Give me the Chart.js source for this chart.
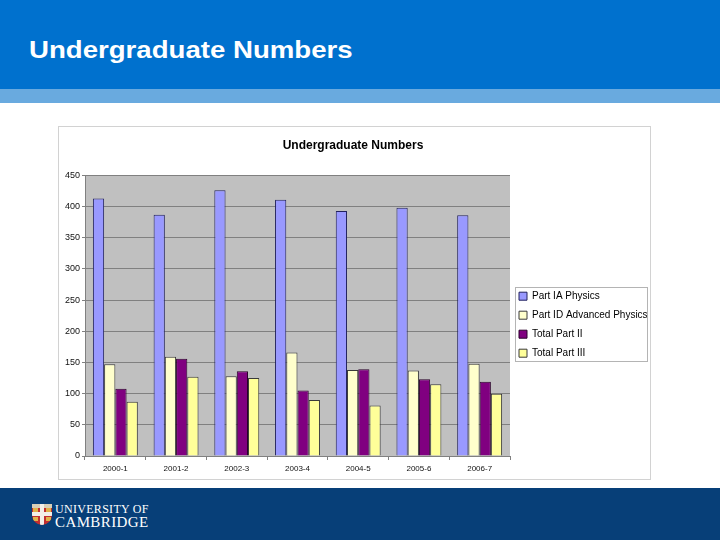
<!DOCTYPE html>
<html>
<head>
<meta charset="utf-8">
<script src="https://cdn.jsdelivr.net/npm/chart.js@4/dist/chart.umd.min.js"></script>
<style>
  html, body { margin: 0; padding: 0; }
  body { width: 720px; height: 540px; position: relative; overflow: hidden; background: #ffffff; font-family: 'Liberation Sans', Arial, sans-serif; }
  #header { position: absolute; left: 0; top: 0; width: 720px; height: 89px; background: #0071ce; }
  #band { position: absolute; left: 0; top: 89px; width: 720px; height: 14px; background: #69aadf; }
  #slideTitle { position: absolute; left: 29px; top: 36px; color: #ffffff; font-weight: bold; font-size: 24px; line-height: 28px; white-space: nowrap; transform: scaleX(1.15); transform-origin: left top; }
  #panel { position: absolute; left: 58px; top: 126px; width: 593px; height: 354px; box-sizing: border-box; border: 1px solid #d2d2d2; background: #fff; }
  #chartWrap { position: absolute; left: 58px; top: 126px; width: 593px; height: 354px; }
  #footer { position: absolute; left: 0; top: 488px; width: 720px; height: 52px; background: #073f78; }
  #shield { position: absolute; left: 32px; top: 504px; width: 20px; height: 21px; background: #c22f2f; border-radius: 0 0 10px 10px; overflow: hidden; }
  #shield .v { position: absolute; left: 8px; top: 0; width: 4px; height: 21px; background: #f2efe8; }
  #shield .h { position: absolute; left: 0; top: 8px; width: 20px; height: 4px; background: #f2efe8; }
  #shield .l { position: absolute; width: 5px; height: 4px; background: #e0b24a; }
  #shield .top { position: absolute; left: 0; top: 0; width: 20px; height: 4px; background: #d8cfb8; }
  #uniText { position: absolute; left: 55px; top: 503px; color: #ffffff; font-family: 'Liberation Serif', 'DejaVu Serif', serif; white-space: nowrap; }
  #uniText .a { font-size: 12px; line-height: 12px; letter-spacing: 0.3px; }
  #uniText .b { font-size: 15px; line-height: 14px; letter-spacing: 0.4px; }
</style>
</head>
<body>
<div id="header"></div>
<div id="band"></div>
<div id="slideTitle">Undergraduate Numbers</div>
<div id="panel"></div>
<div id="chartWrap"><canvas id="c" width="593" height="354"></canvas></div>
<div id="footer"></div>
<div id="shield">
  <div class="top"></div>
  <div class="v"></div>
  <div class="h"></div>
  <div class="l" style="left:1px;top:4px"></div>
  <div class="l" style="left:14px;top:4px"></div>
  <div class="l" style="left:1px;top:13px"></div>
  <div class="l" style="left:14px;top:13px"></div>
</div>
<div id="uniText"><div class="a">UNIVERSITY OF</div><div class="b">CAMBRIDGE</div></div>
<script>
const chartTitle = 'Undergraduate Numbers';
const categories = ['2000-1', '2001-2', '2002-3', '2003-4', '2004-5', '2005-6', '2006-7'];
const seriesNames = ['Part IA Physics', 'Part ID Advanced Physics', 'Total Part II', 'Total Part III'];
const partIA = [413, 387, 426, 411, 393, 398, 386];
const partID = [147, 159, 128, 166, 138, 137, 148];
const partII = [108, 156, 136, 105, 139, 123, 119];
const partIII = [87, 127, 125, 90, 81, 115, 100];
const yTicks = [0, 50, 100, 150, 200, 250, 300, 350, 400, 450];

Chart.defaults.font.family = "'Liberation Sans', Arial, sans-serif";
Chart.defaults.color = '#111';

const plotBg = {
  id: 'plotBg',
  beforeDraw(chart) {
    const a = chart.chartArea, ctx = chart.ctx;
    ctx.save();
    ctx.fillStyle = '#c0c0c0';
    ctx.fillRect(a.left, a.top, a.right - a.left, a.bottom - a.top);
    ctx.restore();
  }
};
const legendShift = {
  id: 'legendShift',
  afterLayout(chart) {
    const lg = chart.legend;
    lg.top += 9; lg.bottom += 9;
  }
};
const legendBorder = {
  id: 'legendBorder',
  afterDraw(chart) {
    const lg = chart.legend, hb = lg.legendHitBoxes;
    if (!hb || !hb.length) return;
    let l = Infinity, t = Infinity, b = -Infinity;
    hb.forEach(h => { l = Math.min(l, h.left); t = Math.min(t, h.top); b = Math.max(b, h.top + h.height); });
    const ctx = chart.ctx;
    ctx.save();
    ctx.strokeStyle = '#b4b4b4';
    ctx.lineWidth = 1;
    ctx.strokeRect(Math.round(l - 4) + 0.5, Math.round(t - 4) + 0.5, Math.round(lg.right - 1 - (l - 4)), Math.round(b + 3 - (t - 4)));
    ctx.restore();
  }
};

const colors = ['#9999ff', '#ffffcc', '#800080', '#ffff99'];
const borders = ['#22225e', '#3a3a3a', '#2a002a', '#3a3a3a'];
const values = [partIA, partID, partII, partIII];

new Chart(document.getElementById('c'), {
  type: 'bar',
  data: {
    labels: categories,
    datasets: values.map((v, i) => ({
      label: seriesNames[i],
      data: v,
      backgroundColor: colors[i],
      borderColor: borders[i],
      borderWidth: 1,
      categoryPercentage: 0.74,
      barPercentage: 1.0
    }))
  },
  plugins: [plotBg, legendShift, legendBorder],
  options: {
    responsive: false,
    animation: false,
    devicePixelRatio: 1,
    layout: { padding: { top: 0, left: 0, right: 3, bottom: 0 } },
    plugins: {
      title: {
        display: true,
        text: chartTitle,
        color: '#000',
        font: { size: 12, weight: 'bold' },
        padding: { top: 12, bottom: 23 }
      },
      legend: {
        position: 'right',
        fullSize: false,
        maxWidth: 138,
        labels: {
          boxWidth: 8,
          boxHeight: 8,
          padding: 9,
          color: '#000',
          font: { size: 10 }
        }
      },
      tooltip: { enabled: false }
    },
    scales: {
      x: {
        grid: { offset: true, drawOnChartArea: false, drawTicks: true, tickLength: 4, color: '#808080' },
        border: { color: '#808080' },
        ticks: { font: { size: 8 }, color: '#111', padding: 4, maxRotation: 0 },
        afterFit(s) { s.height = 24; }
      },
      y: {
        min: 0,
        max: 450,
        afterBuildTicks(s) { s.ticks = yTicks.map(v => ({ value: v })); },
        grid: { color: '#808080', tickLength: 3 },
        border: { color: '#808080' },
        ticks: { font: { size: 9 }, color: '#111', padding: 2 },
        afterFit(s) { s.width = 27; }
      }
    }
  }
});
</script>
</body>
</html>
